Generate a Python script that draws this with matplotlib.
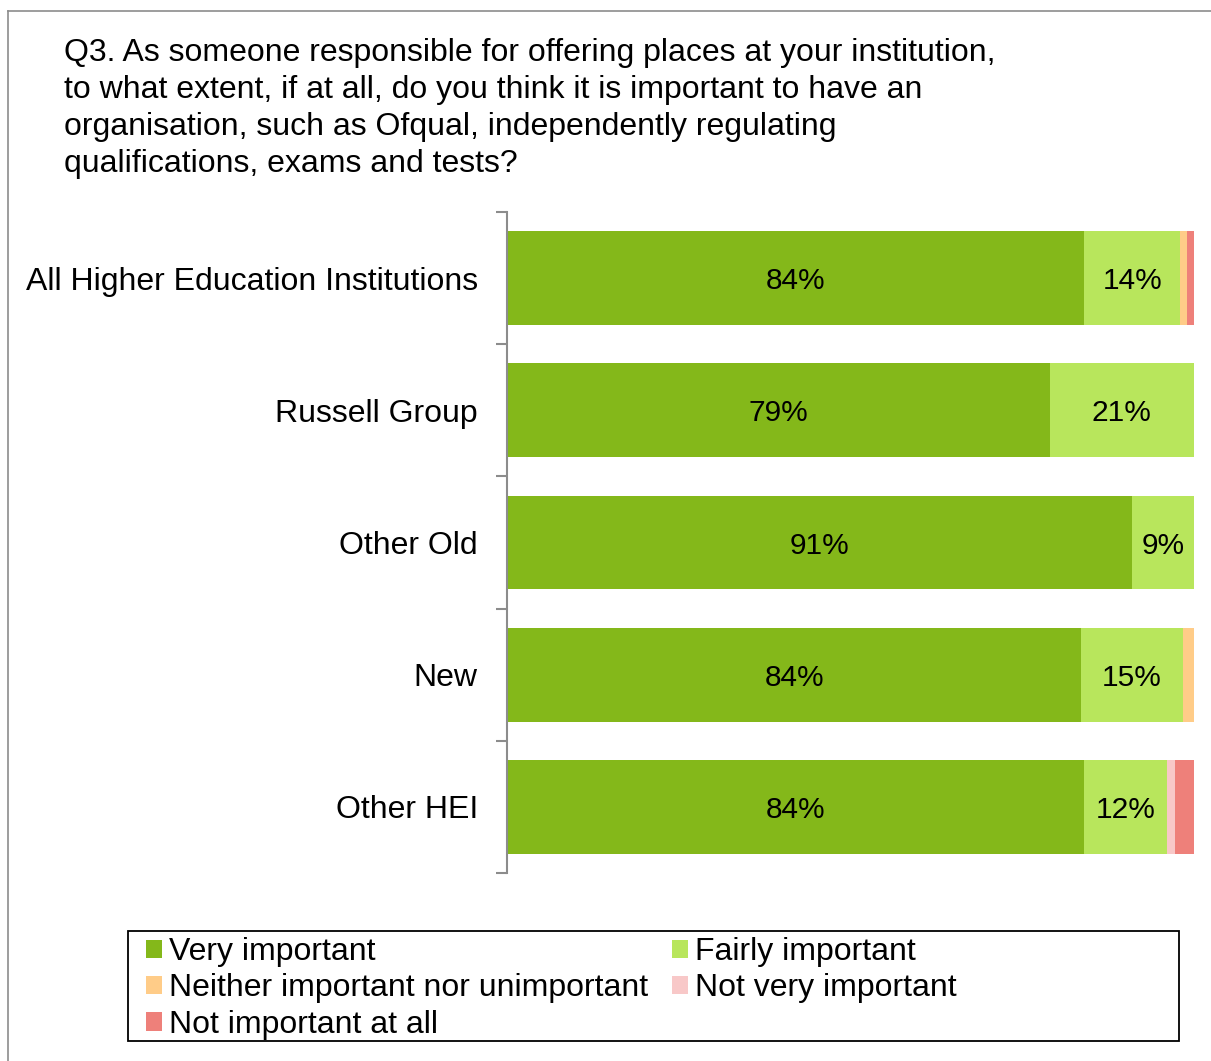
import matplotlib
matplotlib.use("Agg")
import matplotlib.pyplot as plt
from matplotlib.lines import Line2D
from matplotlib.patches import Patch, Rectangle

plt.rcParams['font.family'] = ['Liberation Sans', 'DejaVu Sans']

categories = ["All Higher Education Institutions", "Russell Group", "Other Old", "New", "Other HEI"]
series_names = ["Very important", "Fairly important", "Neither important nor unimportant",
                "Not very important", "Not important at all"]
very = [84, 79, 91, 83.6, 84]
fairly = [14, 21, 9, 14.8, 12]
neither = [1, 0, 0, 1.6, 0]
not_very = [0, 0, 0, 0, 1.2]
not_at_all = [1, 0, 0, 0, 2.8]
colors = ["#84B81A", "#B8E65C", "#FFCC88", "#F8C8C8", "#EE807A"]
title = ("Q3. As someone responsible for offering places at your institution,\n"
         "to what extent, if at all, do you think it is important to have an\n"
         "organisation, such as Ofqual, independently regulating\n"
         "qualifications, exams and tests?")

W, H = 1211, 1061
fig = plt.figure(figsize=(W/100, H/100), dpi=100)
# outer border
fig.add_artist(Line2D([8/W, 8/W], [0, 1-11/H], color="#8c8c8c", lw=1.2, transform=fig.transFigure))
fig.add_artist(Line2D([8/W, 1], [1-11/H, 1-11/H], color="#8c8c8c", lw=1.2, transform=fig.transFigure))

fig.text(64/W, 1-38/H, title, ha="left", va="top", fontsize=23, linespacing=1.30)

ax = fig.add_axes([507/W, 1-873/H, (1194-507)/W, (873-212)/H])
series = [very, fairly, neither, not_very, not_at_all]
y = list(range(len(categories)))
left = [0]*len(categories)
for vals, c, name in zip(series, colors, series_names):
    ax.barh(y, vals, left=left, color=c, height=0.71, label=name, edgecolor="none")
    for i, v in enumerate(vals):
        if v >= 5:
            ax.text(left[i] + v/2, y[i], f"{v:.0f}%", ha="center", va="center_baseline", fontsize=21.5)
    left = [l + v for l, v in zip(left, vals)]

ax.set_xlim(0, 100)
ax.set_ylim(len(categories)-0.5, -0.5)
ax.set_yticks([i - 0.5 for i in range(len(categories)+1)])
ax.set_yticklabels([])
ax.set_yticks(y, minor=True)
ax.set_yticklabels(categories, minor=True, fontsize=23)
ax.tick_params(axis="y", which="major", length=8, color="#8c8c8c", width=1.5, direction="out")
ax.tick_params(axis="y", which="minor", length=0, pad=21)
ax.set_xticks([])
for s in ["top", "right", "bottom"]:
    ax.spines[s].set_visible(False)
ax.spines["left"].set_color("#8c8c8c")
ax.spines["left"].set_linewidth(1.5)

# legend frame
fig.add_artist(Rectangle((128/W, 1-1041/H), (1179-128)/W, (1041-931)/H, transform=fig.transFigure,
                         facecolor="none", edgecolor="black", lw=1.3))
order = [0, 2, 4, 1, 3]
handles = [Patch(facecolor=colors[i], edgecolor="none") for i in order]
labels = [series_names[i] for i in order]
leg = fig.legend(handles, labels, ncol=2, loc="upper left",
                 bbox_to_anchor=(146/W, 1-937/H),
                 fontsize=23, frameon=False,
                 handlelength=0.5, handleheight=0.5, handletextpad=0.22,
                 labelspacing=0.2, borderpad=0, borderaxespad=0, columnspacing=0.75)

fig.savefig("out.png", dpi=100)
